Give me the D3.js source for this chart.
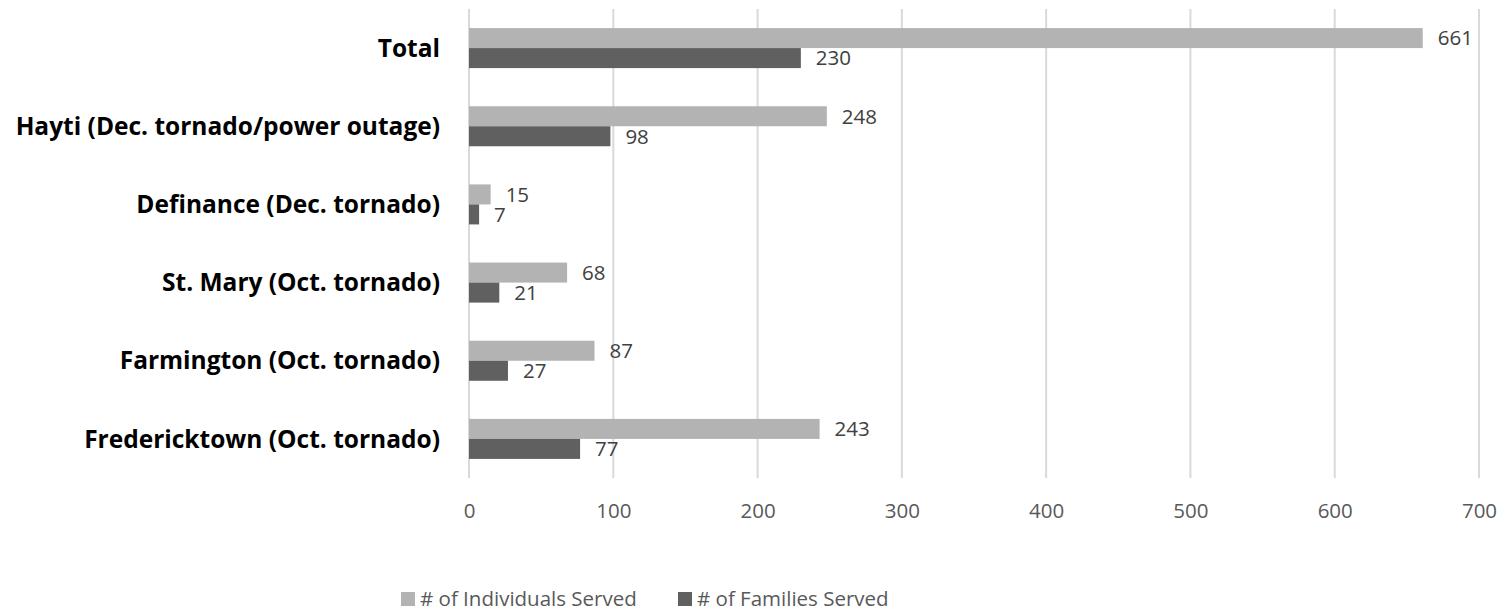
<!DOCTYPE html>
<html><head><meta charset="utf-8">
<script src="https://cdn.jsdelivr.net/npm/d3@7"></script>
<style>
body{margin:0;background:#fff;}
svg{display:block;}
</style></head>
<body>
<svg id="chart" width="1500" height="612"></svg>
<script>
const categories = ["Total","Hayti (Dec. tornado/power outage)","Definance (Dec. tornado)","St. Mary (Oct. tornado)","Farmington (Oct. tornado)","Fredericktown (Oct. tornado)"];
const individuals = [661,248,15,68,87,243];
const families = [230,98,7,21,27,77];
const seriesNames = ["# of Individuals Served","# of Families Served"];
const xTicks = [0,100,200,300,400,500,600,700];

const colors = ["#b3b3b3","#606060"];
const svg = d3.select("#chart");
const pLeft = 469, pRight = 1479, pTop = 9, pBottom = 478;

const x = d3.scaleLinear().domain([0,700]).range([pLeft,pRight]);
const y = d3.scaleBand().domain(categories).range([pTop,pBottom]).paddingInner(0.488).paddingOuter(0.244);
const sub = d3.scaleBand().domain([0,1]).range([0,y.bandwidth()]);

// gridlines
svg.append("g").selectAll("line").data(xTicks).join("line")
  .attr("x1",d=>x(d)).attr("x2",d=>x(d)).attr("y1",pTop).attr("y2",pBottom)
  .attr("stroke","#d9d9d9").attr("stroke-width",2);

// axis labels
const axis = d3.axisBottom(x).tickValues(xTicks).tickSize(0).tickPadding(0);
const ag = svg.append("g").attr("transform",`translate(0,${pBottom+25})`).call(axis);
ag.select(".domain").remove();
ag.selectAll("text").attr("font-family","Open Sans").attr("font-size",20.5).attr("fill","#595959").attr("dy","0.71em");

const data = categories.map((c,i)=>({c, vals:[individuals[i],families[i]]}));

const groups = svg.append("g").selectAll("g").data(data).join("g")
  .attr("transform",d=>`translate(0,${y(d.c)})`);

groups.selectAll("rect").data(d=>d.vals).join("rect")
  .attr("x",x(0)).attr("y",(d,i)=>sub(i)).attr("height",sub.bandwidth())
  .attr("width",d=>x(d)-x(0)).attr("fill",(d,i)=>colors[i]);

groups.selectAll("text.val").data(d=>d.vals).join("text").attr("class","val")
  .attr("x",d=>x(d)+15).attr("y",(d,i)=>sub(i)+sub.bandwidth()/2).attr("dy","0.36em")
  .attr("font-family","Open Sans").attr("font-size",20.5).attr("fill","#404040")
  .text(d=>d);

// category labels
svg.append("g").selectAll("text").data(categories).join("text")
  .attr("x",440).attr("y",d=>y(d)+y.bandwidth()/2).attr("dy","0.357em")
  .attr("text-anchor","end").attr("font-family","Open Sans").attr("font-weight",700)
  .attr("font-size",24.5).attr("fill","#000").text(d=>d);

// legend
const legX = [401,678];
const lg = svg.append("g").selectAll("g").data(seriesNames).join("g")
  .attr("transform",(d,i)=>`translate(${legX[i]},592)`);
lg.append("rect").attr("width",14).attr("height",14).attr("fill",(d,i)=>colors[i]);
lg.append("text").attr("x",19).attr("y",7).attr("dy","0.36em")
  .attr("font-family","Open Sans").attr("font-size",20.5).attr("fill","#595959").text(d=>d);
</script>
</body></html>
